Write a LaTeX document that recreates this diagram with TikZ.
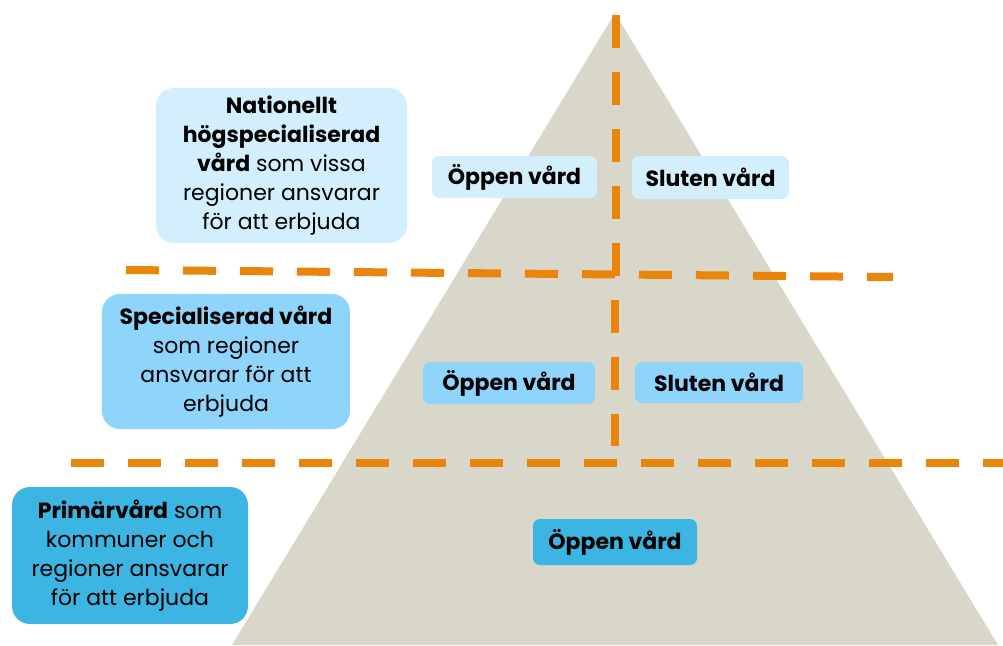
\documentclass[tikz,border=0pt]{standalone}
\usepackage{fontspec}
\setmainfont{Poppins}
\definecolor{pyrgrey}{HTML}{D9D7CA}
\definecolor{dashorange}{HTML}{E8850A}
\definecolor{blueA}{HTML}{D3EEFC}
\definecolor{blueB}{HTML}{8FD4FB}
\definecolor{blueC}{HTML}{3DB5E3}

\begin{document}
\begin{tikzpicture}[x=1pt,y=-1pt,
    levelbox/.style={rounded corners=18pt,align=center,inner sep=0pt,font=\fontsize{22}{29}\selectfont},
    tagbox/.style={rounded corners=7pt,inner sep=0pt,font=\fontsize{22}{24}\selectfont\bfseries},
    orangedash/.style={dashorange,line width=8pt,dash pattern=on 33pt off 24pt}]
        \useasboundingbox (0,0) rectangle (1003,645);
        \fill[pyrgrey] (615,13)--(232,645)--(998,645)--cycle;

        \draw[orangedash] (616,15)--(616,277);
        \draw[orangedash] (615,300)--(615,446);
        \draw[orangedash] (126,270)--(893,277);
        \draw[orangedash] (71,463)--(1003,463);

        \node[levelbox,fill=blueA,minimum width=251pt,minimum height=155pt] (nat) at (281.5,165.5)
            {\textbf{Nationellt}\\\textbf{högspecialiserad}\\\textbf{vård} som vissa\\regioner ansvarar\\för att erbjuda};
        \node[levelbox,fill=blueB,minimum width=248pt,minimum height=135pt] (spec) at (226,361.5)
            {\textbf{Specialiserad vård}\\som regioner\\ansvarar för att\\erbjuda};
        \node[levelbox,fill=blueC,minimum width=236pt,minimum height=137pt] (prim) at (130,555.5)
            {\textbf{Primärvård} som\\kommuner och\\regioner ansvarar\\för att erbjuda};

        \node[tagbox,fill=blueA,minimum width=165pt,minimum height=42pt] (natopen) at (514.5,177) {Öppen vård};
        \node[tagbox,fill=blueA,minimum width=157pt,minimum height=43pt] (natclosed) at (710.5,177.5) {Sluten vård};
        \node[tagbox,fill=blueB,minimum width=172pt,minimum height=42pt] (specopen) at (509,383) {Öppen vård};
        \node[tagbox,fill=blueB,minimum width=168pt,minimum height=41pt] (specclosed) at (719,382.5) {Sluten vård};
        \node[tagbox,fill=blueC,minimum width=164pt,minimum height=46pt] (primopen) at (615,542) {Öppen vård};
    \end{tikzpicture}
\end{document}
